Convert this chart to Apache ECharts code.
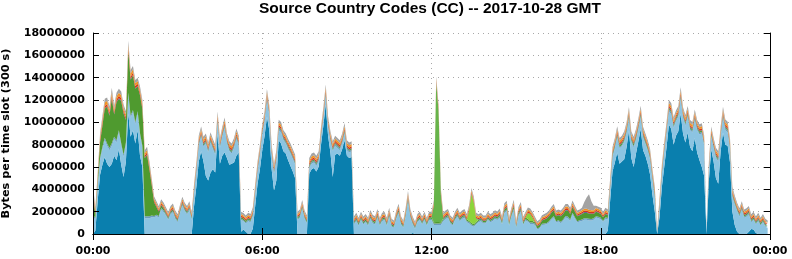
<!DOCTYPE html>
<html><head><meta charset="utf-8">
<script src="https://cdn.jsdelivr.net/npm/echarts@6/dist/echarts.min.js"></script>
<style>html,body{margin:0;padding:0;background:#fff}#c{width:792px;height:259px}</style>
</head><body><div id="c"></div>
<script>
// 288 five-minute slots, values in millions of bytes per slot
const slotMinutes = 5;
const titleText = 'Source Country Codes (CC) -- 2017-10-28 GMT';
const yTitle = 'Bytes per time slot (300 s)';
const yTicks = [0, 2000000, 4000000, 6000000, 8000000, 10000000, 12000000, 14000000, 16000000, 18000000];

const darkBlue = [
0,0.3,3.0,5.3,6.2,6.9,6.3,6.0,6.3,7.0,6.6,7.6,
6.2,5.1,6.5,10.8,8.7,9.3,8.1,9.3,7.0,6.0,0,0,
0,0,0,0,0,0,0,0,0,0,0,0,
0,0,0,0,0,0,0,2.5,4.3,6.5,7.4,6.5,
5.2,4.8,5.5,5.8,5.5,9.0,6.3,7.0,7.3,6.8,6.2,6.3,
6.4,7.0,7.3,0.2,0.4,0.2,0,0,0.5,2.5,4.5,5.8,
7.5,8.8,10.5,9.3,5.8,3.9,4.8,8.4,8.1,7.4,7.2,6.6,
6.1,5.6,5.0,0,0,0,0,0,5.4,5.8,5.9,5.6,
6.0,8.0,9.7,11.6,8.8,7.3,5.1,7.1,7.2,7.0,7.6,8.4,
7.0,6.8,6.9,0,0,0,0,0,0,0,0,0,
0,0,0,0,0,0,0,0,0,0,0,0,
0,0,0,0,0.08,0,0,0,0,0,0,0,
0,0,0,0,0,0,0,0,0,0,0,0,
0,0,0,0,0,0,0,0,0,0,0,0,
0,0,0,0,0,0,0,0,0,0,0,0,
0,0,0,0,0,0,0,0,0,0,0,0,
0,0,0,0,0,0,0,0,0,0,0,0,
0,0,0,0,0,0,0,0,0,0,0,0,
0,0,0,0.3,3.0,5.6,6.4,7.3,6.3,6.5,6.7,7.8,
9.3,6.8,6.0,7.2,8.3,9.4,7.5,7.0,6.3,5.3,3.5,2.0,
0,1.5,4.2,6.0,7.8,9.8,9.4,8.0,8.8,9.2,10.8,9.0,
8.2,9.1,7.8,7.4,8.6,7.3,6.6,6.0,5.2,0,4.8,7.6,
6.5,5.0,4.5,7.4,9.1,8.0,7.9,6.4,2.0,0.8,0.2,0,
0,0,0,0.2,0.45,0.4,0.1,0,0,0,0,0
];
const lightBlue = [
1.5,1.0,1.3,1.3,1.4,1.5,1.6,1.5,1.6,1.5,1.6,1.5,
1.7,1.8,1.5,1.6,1.7,1.6,1.7,1.5,1.8,1.7,1.4,1.4,
1.4,1.5,1.5,1.6,1.5,2.2,2.0,1.65,1.25,1.75,1.95,1.35,
1.05,1.85,2.55,2.05,1.75,2.15,1.25,1.1,1.3,1.4,1.3,1.3,
2.9,2.5,2.7,1.8,1.6,1.0,1.4,1.7,2.2,1.3,1.2,0.9,
1.3,1.5,0.6,1.05,0.75,0.75,1.15,1.05,1.1,1.1,1.1,1.3,
1.4,1.3,1.5,1.3,1.3,1.5,1.8,0.9,1.0,1.0,0.9,1.0,
1.1,1.1,1.2,1.25,1.45,2.25,1.35,0.95,0.5,0.5,0.5,0.5,
0.5,0.7,0.7,0.8,0.8,1.0,2.3,0.8,0.5,0.5,0.5,0.6,
0.5,0.5,0.5,0.85,1.15,0.75,1.25,0.85,1.05,0.75,1.35,0.95,
0.85,1.45,0.75,1.15,1.25,0.75,1.55,0.65,0.55,1.35,1.85,0.85,
0.55,1.55,2.95,1.45,0.77,0.45,1.05,1.25,0.85,1.25,0.75,1.25,
1.25,0.8,0.8,0.8,0.8,1.15,1.35,1.45,0.95,0.75,1.25,1.55,
1.15,1.35,1.45,1.05,0.95,0.75,0.65,0.85,1.05,1.15,0.95,0.95,
1.25,1.05,1.15,1.35,1.25,1.45,0.85,1.85,2.05,0.75,1.55,2.15,
0.55,1.6,2.0,0.8,1.2,1.1,0.9,0.9,0.8,0.4,0.5,0.8,
0.82,0.87,1.02,1.27,1.47,1.02,1.12,0.97,1.17,1.47,1.42,1.17,
1.77,1.37,1.02,1.12,1.17,1.27,1.27,1.22,1.22,1.27,1.47,1.42,
1.32,1.07,1.37,1.02,1.05,1.25,1.25,1.35,1.35,1.35,1.55,1.25,
1.05,1.45,1.75,1.25,1.05,1.05,1.15,1.05,1.15,1.35,1.35,1.25,
0.2,0.8,1.1,1.3,1.3,1.2,1.3,1.5,1.3,1.3,1.3,1.4,
1.5,1.4,1.5,1.7,1.6,2.0,2.3,3.0,2.7,0.3,0.8,1.1,
1.2,1.8,2.0,1.3,1.3,1.3,1.2,1.2,1.3,1.85,1.85,1.55,
2.15,1.45,1.55,1.55,0.6,0.85,0.75,1.15,0.75,1.05,0.65,0.55
];
const steelBlue = [
.2,.15,.18,.2,.2,.22,.2,.2,.22,.2,.2,.2,
.22,.2,.2,.25,.22,.2,.2,.2,.22,.2,.18,.18,
.18,.15,.12,.12,.12,.13,.12,.12,.11,.12,.13,.12,
.11,.12,.13,.12,.12,.13,.12,.15,.15,.15,.16,.15,
.15,.15,.16,.15,.15,.17,.15,.15,.16,.15,.15,.15,
.15,.16,.15,.12,.11,.11,.12,.12,.13,.15,.15,.15,
.15,.16,.17,.16,.15,.15,.15,.16,.16,.15,.15,.15,
.15,.15,.15,.12,.12,.13,.12,.11,.15,.15,.15,.15,
.15,.15,.16,.17,.16,.15,.15,.15,.15,.15,.15,.16,
.15,.15,.15,.11,.12,.11,.12,.11,.12,.11,.13,.12,
.12,.13,.11,.12,.12,.11,.13,.11,.1,.12,.14,.12,
.1,.13,.15,.13,.11,.1,.12,.12,.11,.12,.11,.12,
.12,.13,.15,.15,.13,.12,.12,.13,.11,.11,.12,.13,
.12,.12,.13,.12,.12,.12,.12,.12,.11,.12,.11,.11,
.12,.11,.12,.12,.12,.13,.11,.14,.14,.11,.12,.14,
.1,.13,.14,.11,.12,.12,.12,.12,.11,.1,.1,.11,
.12,.12,.12,.13,.14,.12,.12,.12,.13,.14,.14,.13,
.14,.13,.12,.12,.13,.14,.14,.14,.13,.13,.13,.13,
.13,.12,.13,.12,.15,.15,.15,.16,.15,.15,.15,.16,
.17,.15,.15,.15,.16,.17,.15,.15,.15,.15,.15,.15,
.05,.15,.15,.15,.16,.17,.17,.16,.16,.16,.18,.16,
.16,.16,.15,.15,.16,.15,.15,.15,.15,.05,.15,.15,
.15,.15,.15,.15,.17,.16,.16,.15,.15,.13,.12,.12,
.13,.12,.12,.12,.11,.12,.11,.12,.11,.12,.11,.1
];
const green = [
1.8,.3,.3,1.4,1.9,2.6,3.3,2.9,4.0,2.0,3.4,2.8,
3.8,3.7,2.0,3.7,3.2,3.1,3.0,2.2,3.4,3.3,5.2,5.5,
4.2,2.7,1.2,.7,.35,.25,.18,.12,.12,.12,.12,.12,
.12,.12,.12,.12,.12,.12,.12,.1,.1,.1,.1,.1,
.1,.1,.1,.1,.1,.1,.1,.1,.1,.1,.1,.1,
.1,.1,.1,.12,.12,.12,.12,.12,.1,.1,.1,.1,
.1,.1,.1,.1,.1,.1,.1,.1,.1,.1,.1,.1,
.1,.1,.1,.12,.12,.12,.12,.12,.1,.1,.1,.1,
.1,.1,.1,.1,.1,.1,.1,.1,.1,.1,.1,.1,
.1,.1,.1,.12,.12,.12,.12,.12,.12,.12,.12,.12,
.12,.13,.11,.12,.12,.11,.13,.12,.11,.12,.14,.12,
.11,.13,.14,.12,.12,.11,.12,.12,.12,.12,.12,.12,
.12,.12,.12,.12,.12,.12,.12,.13,.12,.11,.12,.13,
.12,.12,.13,.12,.12,.12,.12,.12,.12,.12,.11,.12,
.13,.12,.13,.14,.14,.16,.14,.18,.2,.15,.18,.2,
.12,.15,.15,.15,.15,.15,.15,.15,.15,.2,.25,.3,
.35,.4,.45,.5,.5,.45,.45,.5,.5,.5,.55,.5,
.5,.5,.45,.45,.5,.5,.5,.45,.45,.4,.4,.35,
.35,.3,.3,.25,.15,.15,.15,.15,.15,.15,.15,.15,
.15,.15,.15,.15,.15,.15,.15,.15,.15,.15,.15,.15,
.05,.12,.12,.12,.12,.12,.12,.12,.12,.12,.12,.12,
.12,.12,.12,.12,.12,.12,.12,.12,.12,.05,.12,.12,
.12,.12,.12,.12,.12,.12,.12,.12,.12,.12,.12,.12,
.12,.12,.12,.12,.12,.12,.12,.12,.12,.12,.12,.12
];
const noonGreen = [
0,0,0,0,0,0,0,0,0,0,0,0, 0,0,0,0,0,0,0,0,0,0,0,0,
0,0,0,0,0,0,0,0,0,0,0,0, 0,0,0,0,0,0,0,0,0,0,0,0,
0,0,0,0,0,0,0,0,0,0,0,0, 0,0,0,0,0,0,0,0,0,0,0,0,
0,0,0,0,0,0,0,0,0,0,0,0, 0,0,0,0,0,0,0,0,0,0,0,0,
0,0,0,0,0,0,0,0,0,0,0,0, 0,0,0,0,0,0,0,0,0,0,0,0,
0,0,0,0,0,0,0,0,0,0,0,0, 0,0,0,0,0,0,0,0,0,0,0,0,
0,1.45,12.45,9.95,2.45,0,0,0,0,0,0,0,
0,0,0,0,0,0,0,0,0,0,0,0, 0,0,0,0,0,0,0,0,0,0,0,0,
0,0,0,0,0,0,0,0,0,0,0,0, 0,0,0,0,0,0,0,0,0,0,0,0,
0,0,0,0,0,0,0,0,0,0,0,0, 0,0,0,0,0,0,0,0,0,0,0,0,
0,0,0,0,0,0,0,0,0,0,0,0, 0,0,0,0,0,0,0,0,0,0,0,0,
0,0,0,0,0,0,0,0,0,0,0,0, 0,0,0,0,0,0,0,0,0,0,0,0,
0,0,0,0,0,0,0,0,0,0,0,0
];
const limeGreen = [
0,0,0,0,0,0,0,0,0,0,0,0, 0,0,0,0,0,0,0,0,0,0,0,0,
0,0,0,0,0,0,0,0,0,0,0,0, 0,0,0,0,0,0,0,0,0,0,0,0,
0,0,0,0,0,0,0,0,0,0,0,0, 0,0,0,0,0,0,0,0,0,0,0,0,
0,0,0,0,0,0,0,0,0,0,0,0, 0,0,0,0,0,0,0,0,0,0,0,0,
0,0,0,0,0,0,0,0,0,0,0,0, 0,0,0,0,0,0,0,0,0,0,0,0,
0,0,0,0,0,0,0,0,0,0,0,0, 0,0,0,0,0,0,0,0,0,0,0,0,
0,0,0,0,0,0,0,0,0,0,0,0,
0,0,0,0,0.9,2.6,1.9,0.3,0,0,0,0,
0,0,0,0,0,0,0,0,0,0,0,0,
0,0,0,0,0,0.5,0.6,0.3,0,0,0,0,
0,0,0,0,0,0,0,0,0,0,0,0, 0,0,0,0,0,0,0,0,0,0,0,0,
0,0,0,0,0,0,0,0,0,0,0,0, 0,0,0,0,0,0,0,0,0,0,0,0,
0,0,0,0,0,0,0,0,0,0,0,0, 0,0,0,0,0,0,0,0,0,0,0,0,
0,0,0,0,0,0,0,0,0,0,0,0, 0,0,0,0,0,0,0,0,0,0,0,0
];
const navy = [
.05,.05,.05,.05,.05,.05,.05,.05,.05,.05,.05,.05,
.05,.05,.05,.05,.05,.05,.05,.05,.05,.05,.05,.05,
.05,.04,.04,.04,.04,.04,.04,.04,.04,.04,.04,.04,
.04,.04,.04,.04,.04,.04,.04,.05,.05,.05,.05,.05,
.05,.05,.05,.05,.05,.05,.05,.05,.05,.05,.05,.05,
.05,.05,.05,.04,.04,.04,.04,.04,.05,.05,.05,.05,
.05,.05,.05,.05,.05,.05,.05,.05,.05,.05,.05,.05,
.05,.05,.05,.04,.04,.04,.04,.04,.05,.05,.05,.05,
.05,.05,.05,.05,.05,.05,.05,.05,.05,.05,.05,.05,
.05,.05,.05,.04,.04,.04,.04,.04,.04,.04,.04,.04,
.04,.04,.03,.04,.04,.04,.05,.04,.03,.04,.05,.04,
.03,.04,.05,.04,.04,.03,.04,.04,.04,.04,.04,.04,
.04,.04,.05,.05,.04,.04,.04,.04,.04,.04,.04,.04,
.04,.04,.04,.04,.04,.04,.04,.04,.04,.04,.04,.04,
.04,.04,.04,.04,.04,.04,.04,.05,.05,.04,.04,.05,
.03,.04,.05,.04,.04,.04,.04,.04,.04,.03,.03,.04,
.04,.04,.04,.04,.05,.04,.04,.04,.04,.05,.05,.04,
.05,.04,.04,.04,.04,.05,.05,.05,.04,.04,.04,.04,
.04,.04,.04,.04,.05,.05,.05,.05,.05,.05,.05,.05,
.05,.05,.05,.05,.05,.05,.05,.05,.05,.05,.05,.05,
.02,.05,.05,.05,.05,.05,.05,.05,.05,.05,.05,.05,
.05,.05,.05,.05,.05,.05,.05,.05,.05,.02,.05,.05,
.05,.05,.05,.05,.05,.05,.05,.05,.05,.04,.04,.04,
.04,.04,.04,.04,.04,.04,.04,.04,.04,.04,.04,.04
];
const red = [
.2,.15,.18,.2,.22,.2,.2,.22,.22,.2,.2,.22,
.2,.2,.2,.25,.22,.22,.2,.2,.2,.2,.18,.18,
.18,.15,.13,.12,.12,.13,.12,.12,.11,.12,.13,.12,
.11,.12,.13,.12,.12,.13,.12,.15,.15,.16,.15,.15,
.15,.15,.15,.15,.15,.17,.15,.15,.16,.15,.15,.15,
.15,.16,.15,.12,.12,.11,.12,.12,.13,.15,.15,.15,
.15,.16,.17,.16,.15,.15,.15,.16,.16,.15,.15,.15,
.15,.15,.15,.12,.12,.13,.12,.11,.15,.15,.15,.15,
.15,.15,.16,.17,.16,.15,.15,.15,.15,.15,.15,.16,
.15,.15,.15,.11,.12,.11,.12,.11,.12,.11,.13,.12,
.12,.13,.11,.12,.12,.11,.13,.11,.1,.12,.14,.12,
.1,.13,.15,.13,.11,.1,.12,.12,.11,.12,.11,.12,
.12,.13,.15,.15,.13,.12,.12,.13,.11,.11,.12,.13,
.12,.12,.13,.12,.12,.13,.13,.12,.11,.12,.11,.11,
.12,.11,.12,.12,.12,.13,.11,.14,.14,.11,.12,.14,
.1,.13,.14,.11,.12,.12,.12,.12,.11,.1,.1,.11,
.12,.12,.12,.13,.14,.12,.12,.12,.13,.14,.14,.13,
.14,.13,.12,.12,.13,.14,.14,.14,.13,.13,.13,.13,
.13,.12,.13,.12,.15,.15,.15,.16,.15,.15,.15,.16,
.17,.15,.15,.15,.16,.17,.15,.15,.15,.15,.15,.15,
.05,.15,.15,.15,.16,.17,.17,.16,.16,.16,.18,.16,
.16,.16,.15,.15,.16,.15,.15,.15,.15,.05,.15,.15,
.15,.15,.15,.15,.17,.16,.16,.15,.15,.13,.12,.12,
.13,.12,.12,.12,.11,.12,.11,.12,.11,.12,.11,.1
];
const orange = [
.25,.2,.22,.25,.28,.3,.28,.25,.3,.25,.28,.28,
.28,.25,.25,.3,.28,.28,.25,.25,.25,.25,.22,.22,
.22,.18,.16,.15,.15,.16,.15,.15,.14,.15,.16,.15,
.14,.15,.16,.15,.15,.16,.15,.2,.2,.2,.21,.2,
.2,.2,.2,.2,.2,.22,.2,.2,.21,.2,.2,.2,
.2,.21,.2,.15,.15,.14,.15,.15,.17,.2,.2,.2,
.2,.21,.22,.21,.2,.2,.2,.21,.21,.2,.2,.2,
.2,.2,.2,.15,.15,.16,.15,.14,.2,.2,.2,.2,
.2,.2,.21,.22,.21,.2,.2,.2,.2,.2,.2,.21,
.2,.2,.2,.14,.15,.14,.15,.14,.15,.14,.16,.15,
.15,.16,.14,.15,.15,.14,.16,.14,.13,.15,.17,.15,
.13,.16,.18,.16,.14,.13,.15,.15,.14,.15,.14,.15,
.15,.16,.18,.18,.16,.15,.15,.16,.14,.14,.15,.16,
.15,.15,.16,.15,.15,.16,.16,.15,.14,.15,.14,.14,
.15,.14,.15,.15,.15,.16,.14,.17,.17,.14,.15,.17,
.13,.16,.17,.14,.15,.15,.15,.15,.14,.13,.13,.14,
.15,.15,.15,.16,.17,.15,.15,.15,.16,.17,.17,.16,
.17,.16,.15,.15,.16,.17,.17,.17,.16,.16,.16,.16,
.16,.15,.16,.15,.2,.2,.2,.21,.2,.2,.2,.21,
.22,.2,.2,.2,.21,.22,.2,.2,.2,.2,.2,.2,
.05,.2,.2,.2,.21,.22,.22,.21,.21,.21,.23,.21,
.21,.21,.2,.2,.21,.2,.2,.2,.2,.05,.2,.2,
.2,.2,.2,.2,.22,.21,.21,.2,.2,.16,.15,.15,
.16,.15,.15,.15,.14,.15,.14,.15,.14,.15,.14,.13
];
const gray = [
.3,.25,.28,.3,.32,.35,.3,.3,.4,.3,.32,.35,
.32,.3,.3,.35,.32,.3,.3,.3,.3,.3,.28,.28,
.28,.22,.2,.2,.2,.21,.2,.2,.19,.2,.21,.2,
.19,.2,.21,.2,.2,.21,.2,.25,.25,.25,.26,.25,
.25,.25,.25,.25,.25,.27,.25,.25,.26,.25,.25,.25,
.25,.26,.25,.2,.2,.19,.2,.2,.22,.25,.25,.25,
.25,.26,.27,.26,.25,.25,.25,.26,.26,.25,.25,.25,
.25,.25,.25,.2,.2,.21,.2,.19,.25,.25,.25,.25,
.25,.25,.26,.27,.26,.25,.25,.25,.25,.25,.25,.26,
.25,.25,.25,.19,.2,.19,.2,.19,.2,.19,.21,.2,
.2,.21,.19,.2,.2,.19,.21,.19,.18,.2,.22,.2,
.18,.21,.23,.21,.19,.18,.2,.2,.19,.2,.19,.2,
.2,.21,.23,.23,.21,.2,.2,.21,.19,.19,.2,.21,
.2,.2,.21,.2,.2,.21,.21,.2,.19,.2,.19,.19,
.2,.19,.2,.2,.2,.21,.19,.22,.22,.19,.2,.22,
.18,.21,.22,.19,.2,.2,.2,.2,.19,.18,.18,.19,
.2,.2,.2,.21,.22,.2,.2,.2,.21,.22,.22,.21,
.22,.21,.2,.2,.21,.6,1.0,1.4,.8,.4,.21,.21,
.21,.2,.21,.2,.25,.25,.25,.26,.25,.25,.25,.26,
.27,.25,.25,.25,.26,.27,.25,.25,.25,.25,.25,.25,
.08,.25,.25,.25,.26,.27,.27,.26,.26,.26,.28,.26,
.26,.26,.25,.25,.26,.25,.25,.25,.25,.08,.25,.25,
.25,.25,.25,.25,.27,.26,.26,.25,.25,.21,.2,.2,
.21,.2,.2,.2,.19,.2,.19,.2,.19,.2,.19,.18
];

// time-slot categories 00:00 ... 23:55 plus the closing 00:00 of the next day
const timeSlots = [];
for (let m = 0; m <= 1440; m += slotMinutes) {
  const h = Math.floor(m / 60) % 24, mm = m % 60;
  timeSlots.push(String(h).padStart(2, '0') + ':' + String(mm).padStart(2, '0'));
}

const layers = [
  { name: 'CC 1', data: darkBlue,  color: '#0a7fae' },
  { name: 'CC 2', data: lightBlue, color: '#8cc4e2' },
  { name: 'CC 3', data: steelBlue, color: '#6b9dbe' },
  { name: 'CC 4', data: green,     color: '#4f9a2f' },
  { name: 'CC 5', data: noonGreen, color: '#66b44a' },
  { name: 'CC 6', data: limeGreen, color: '#8cd43a' },
  { name: 'CC 7', data: navy,      color: '#3d408f' },
  { name: 'CC 8', data: red,       color: '#d2381a' },
  { name: 'CC 9', data: orange,    color: '#f29222' },
  { name: 'CC 10', data: gray,     color: '#a3a3a3' }
];

const tickFont = { fontFamily: 'DejaVu Sans', fontWeight: 'bold', fontSize: 11, color: '#000' };
const dotted = { color: '#a8a8a8', type: [1, 4], width: 1 };
const everySixHours = 360 / slotMinutes - 1;

const series = layers.map(l => ({
  name: l.name, type: 'line', stack: 'total', xAxisIndex: 0, yAxisIndex: 0,
  symbol: 'none', showSymbol: false, smooth: false, z: 2,
  lineStyle: { width: 0, opacity: 0 },
  itemStyle: { color: l.color },
  areaStyle: { color: l.color, opacity: 1 },
  emphasis: { disabled: true },
  data: l.data.map(v => v * 1e6)
}));

const catAxis = (extra) => Object.assign({
  type: 'category', data: timeSlots, boundaryGap: false
}, extra);
const valAxis = (extra) => Object.assign({
  type: 'value', min: yTicks[0], max: yTicks[yTicks.length - 1], interval: yTicks[1] - yTicks[0]
}, extra);
const frameParts = {
  z: 5,
  axisLine: { show: true, lineStyle: { color: '#000', width: 1 } },
  axisLabel: { show: false }, splitLine: { show: false }
};

const chart = echarts.init(document.getElementById('c'), null, { renderer: 'canvas' });
chart.setOption({
  animation: false,
  backgroundColor: '#fff',
  title: {
    text: titleText, left: 259, top: 1, padding: 0,
    textStyle: { fontFamily: 'Liberation Sans', fontWeight: 'bold', fontSize: 15.5, color: '#000' }
  },
  grid: { left: 93, right: 22, top: 33, bottom: 25, containLabel: false, outerBoundsMode: 'none' },
  xAxis: [
    catAxis({ position: 'bottom', z: 0,
      axisLine: { show: false }, axisTick: { show: false },
      axisLabel: Object.assign({ margin: 12, interval: everySixHours, showMinLabel: true, showMaxLabel: true }, tickFont),
      splitLine: { show: true, interval: everySixHours, lineStyle: dotted } }),
    catAxis(Object.assign({ position: 'bottom',
      axisTick: { show: true, inside: true, length: 6, interval: everySixHours, lineStyle: { color: '#000' } } }, frameParts)),
    catAxis(Object.assign({ position: 'top',
      axisTick: { show: true, inside: true, length: 6, interval: everySixHours, lineStyle: { color: '#000' } } }, frameParts))
  ],
  yAxis: [
    valAxis({ position: 'left', z: 0,
      axisLine: { show: false }, axisTick: { show: false },
      axisLabel: Object.assign({ margin: 8, formatter: v => String(v) }, tickFont),
      splitLine: { show: true, lineStyle: dotted },
      name: yTitle, nameLocation: 'middle', nameGap: 81, nameRotate: 90,
      nameTextStyle: { fontFamily: 'DejaVu Sans', fontWeight: 'bold', fontSize: 11.3, color: '#000' } }),
    valAxis(Object.assign({ position: 'left',
      axisTick: { show: true, inside: true, length: 6, lineStyle: { color: '#000' } } }, frameParts)),
    valAxis(Object.assign({ position: 'right',
      axisTick: { show: true, inside: true, length: 6, lineStyle: { color: '#000' } } }, frameParts))
  ],
  series: series
});
</script>
</body></html>
